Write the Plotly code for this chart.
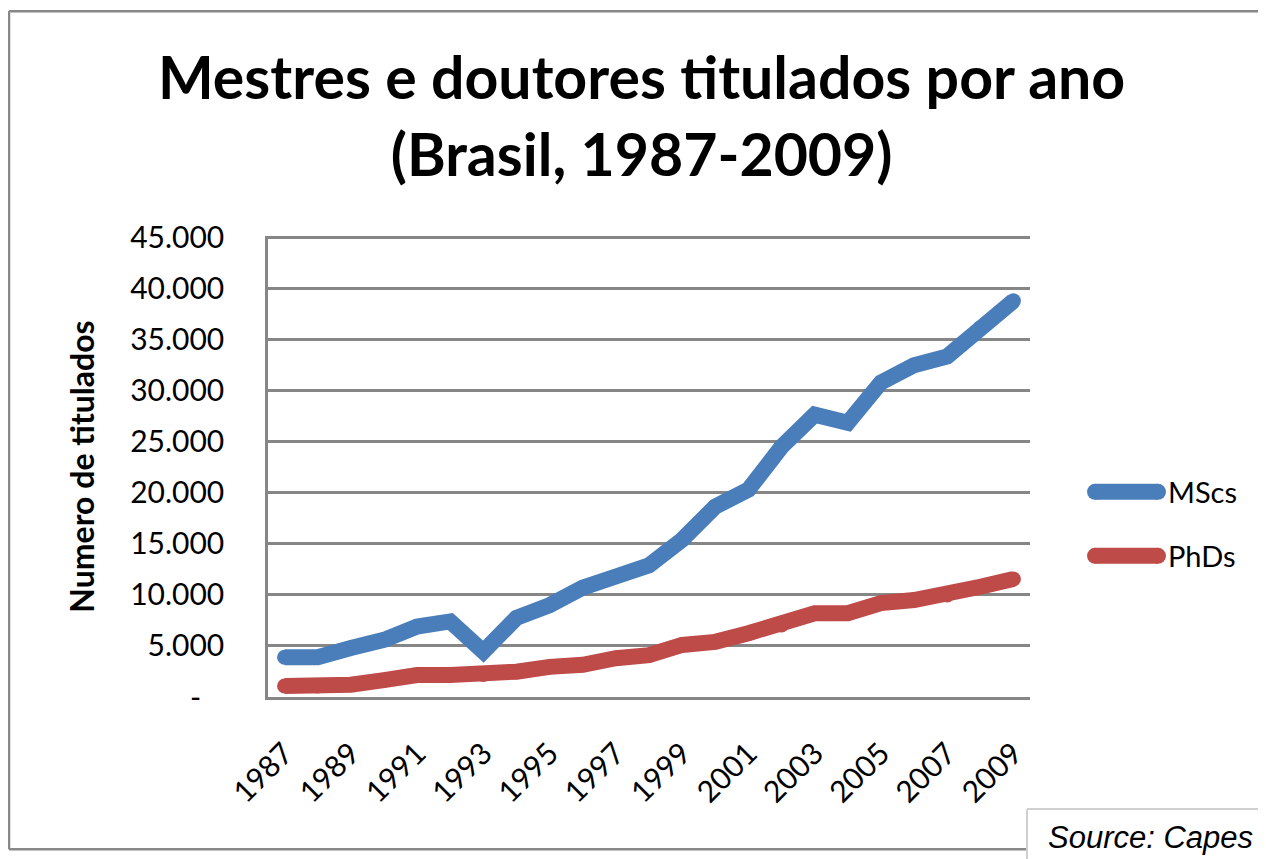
import plotly.graph_objects as go

years = list(range(1987, 2010))
mscs = [3900, 3900, 4800, 5600, 6900, 7400, 4450, 7750, 9000, 10700,
        11800, 12900, 15400, 18650, 20300, 24500, 27650, 26850, 30800, 32500,
        33350, 36150, 38800]
phds = [1080, 1080, 1200, 1650, 2150, 2150, 2200, 2480, 2950, 3150,
        3800, 4100, 5100, 5400, 6250, 7050, 8200, 8200, 9200, 9500,
        10000, 10800, 11550]
series_names = ["MScs", "PhDs"]
series_colors = ["#4A7EBB", "#BE4B48"]
y_ticks = list(range(0, 45001, 5000))
y_ticktext = ["-\u00a0\u00a0\u00a0"] + [f"{v:,}".replace(",", ".") for v in y_ticks[1:]]
x_ticks = years[::2]

OFF = 8  # page body margin
W, H = 1266 - 2 * OFF, 859 - OFF
Y_MAX = 45150
# reference pixel geometry of the plot area
RL, RR, R0, R45 = 268, 1030, 697, 238
RT = R0 - (R0 - R45) * Y_MAX / 45000
L, R, T, B = RL - OFF, RR - OFF, RT - OFF, R0 - OFF


def px(x):
    return (x - OFF - L) / (R - L)


def py(y):
    return (B - (y - OFF)) / (B - T)


fig = go.Figure()
for name, vals, col in zip(series_names, [mscs, phds], series_colors):
    fig.add_trace(go.Scatter(
        x=years, y=vals, name=name, mode="lines+markers",
        line=dict(color=col, width=16),
        marker=dict(color=col, size=15, line=dict(width=0)),
        showlegend=False, hoverinfo="x+y"))

font_main = "Lato, 'Open Sans', sans-serif"


def seg(x0, y0, x1, y1, color, width):
    return dict(type="line", xref="paper", yref="paper",
                x0=px(x0), x1=px(x1), y0=py(y0), y1=py(y1),
                line=dict(color=color, width=width))


XEND = 1262
shapes = [
    # outer chart border (right side falls outside the picture)
    seg(9, 12, XEND, 12, "#888888", 2.5),
    seg(9, 12, 9, 849, "#888888", 2.5),
    seg(9, 849, XEND, 849, "#888888", 2.5),
    # source box
    dict(type="rect", xref="paper", yref="paper",
         x0=px(1027), x1=px(XEND), y0=py(900), y1=py(809),
         line=dict(width=0), fillcolor="white", layer="above"),
    seg(1027, 809, XEND, 809, "#D0D0D0", 2),
    seg(1027, 809, 1027, 900, "#D0D0D0", 2),
]
annotations = [
    dict(text="<b>Mestres e doutores titulados por ano<br>(Brasil, 1987-2009)</b>",
         xref="paper", yref="paper", x=px(641), y=py(116),
         xanchor="center", yanchor="middle", showarrow=False,
         font=dict(family=font_main, size=59, color="black"), align="center"),
    dict(text="<i>Source: Capes</i>", xref="paper", yref="paper",
         x=px(1046), y=py(837), xanchor="left", yanchor="middle",
         showarrow=False,
         font=dict(family="Liberation Sans, Arial, sans-serif", size=31, color="black")),
]
leg_y = [492, 556]
for name, col, ly in zip(series_names, series_colors, leg_y):
    shapes.append(seg(1095, ly, 1158, ly, col, 16))
    for cx in (1095, 1158):
        shapes.append(dict(type="circle", xref="paper", yref="paper",
                           x0=px(cx - 8), x1=px(cx + 8), y0=py(ly + 8), y1=py(ly - 8),
                           line=dict(width=0), fillcolor=col))
    annotations.append(dict(text=name, xref="paper", yref="paper",
                            x=px(1166), y=py(ly), xanchor="left", yanchor="middle",
                            showarrow=False,
                            font=dict(family=font_main, size=29, color="black")))

fig.update_layout(
    width=W, height=H,
    margin=dict(l=L, r=W - R, t=T, b=H - B, pad=0),
    paper_bgcolor="white", plot_bgcolor="white",
    font=dict(family=font_main, size=30, color="black"),
    shapes=shapes, annotations=annotations,
    showlegend=False,
    xaxis=dict(range=[1986.5, 2009.5], tickvals=x_ticks,
               ticktext=[str(v) for v in x_ticks], tickangle=-45,
               showgrid=False, zeroline=False, showline=True,
               linecolor="#868686", linewidth=2.5, ticks="",
               ticklabelstandoff=24,
               tickfont=dict(size=30), fixedrange=True),
    yaxis=dict(range=[0, Y_MAX], tickvals=y_ticks, ticktext=y_ticktext,
               showgrid=True, gridcolor="#868686", gridwidth=2.5,
               zeroline=False, showline=True, linecolor="#868686",
               linewidth=2.5, ticks="", ticklabelstandoff=35,
               tickfont=dict(size=30),
               title=dict(text="<b>Numero de titulados</b>", standoff=26,
                          font=dict(size=32)),
               fixedrange=True),
)

fig.write_html("out.html")
